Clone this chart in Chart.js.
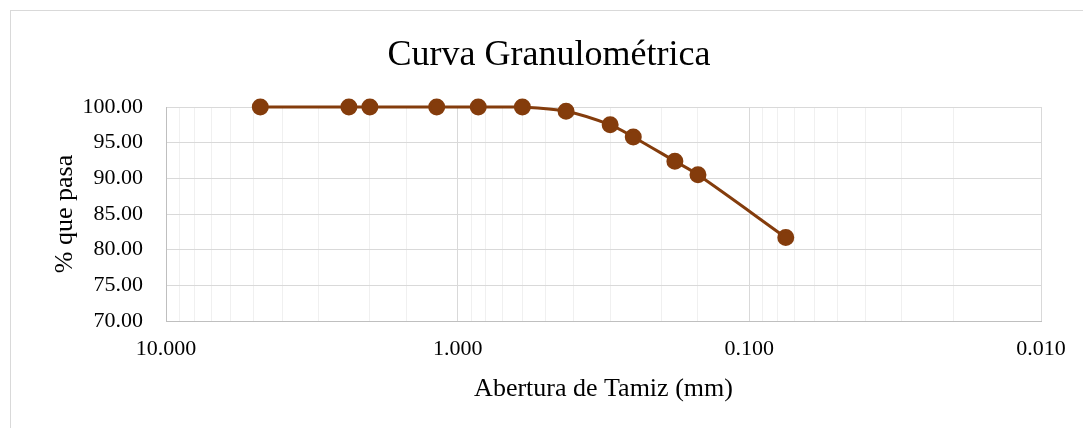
<!DOCTYPE html>
<html lang="es">
<head>
<meta charset="utf-8">
<title>Curva Granulométrica</title>
<script src="https://cdn.jsdelivr.net/npm/chart.js@4/dist/chart.umd.min.js"></script>
<style>
    html, body { margin: 0; padding: 0; background: #ffffff; }
    #frame {
        position: absolute; left: 10px; top: 10px;
        width: 1100px; height: 450px;
        border: 1px solid #d9d9d9;
    }
    #wrap { position: absolute; left: 0; top: 0; width: 1083px; height: 428px; }
</style>
</head>
<body>
<div id="frame"></div>
<div id="wrap"><canvas id="granChart" width="1083" height="428"></canvas></div>
<script>
// Datos del ensayo granulométrico
const aberturas = [4.75, 2.36, 2.00, 1.18, 0.85, 0.60, 0.425, 0.30, 0.25, 0.18, 0.15, 0.075];
const porcentajePasa = [100, 100, 100, 100, 100, 100, 99.4, 97.5, 95.8, 92.4, 90.5, 81.7];
const etiquetasX = [10, 1, 0.1, 0.01];

const tituloGrafico = 'Curva Granulométrica';
const tituloX = 'Abertura de Tamiz (mm)';
const tituloY = '% que pasa';

const serif = "'Liberation Serif', 'Times New Roman', serif";
const marron = '#843c0c';

// Title drawn by hand so it can sit where Excel puts it
const chartTitle = {
    id: 'chartTitle',
    afterDraw(chart) {
        const ctx = chart.ctx;
        ctx.save();
        ctx.font = '36px ' + serif;
        ctx.fillStyle = '#000000';
        ctx.textAlign = 'center';
        ctx.textBaseline = 'middle';
        ctx.fillText(tituloGrafico, 549, 56);
        ctx.restore();
    }
};

function isDecade(v) {
    const l = Math.log10(v);
    return Math.abs(l - Math.round(l)) < 1e-9;
}

const puntos = aberturas.map((a, i) => ({ x: a, y: porcentajePasa[i] }));

new Chart(document.getElementById('granChart'), {
    type: 'scatter',
    data: {
        datasets: [{
            data: puntos,
            showLine: true,
            clip: false,
            borderColor: marron,
            backgroundColor: marron,
            borderWidth: 3,
            pointRadius: 7,
            pointHoverRadius: 7,
            tension: 0.35
        }]
    },
    options: {
        responsive: false,
        animation: false,
        layout: { padding: { left: 40, right: 42, top: 107, bottom: 0 } },
        plugins: {
            legend: { display: false },
            tooltip: { enabled: false }
        },
        scales: {
            x: {
                type: 'logarithmic',
                reverse: true,
                min: 0.01,
                max: 10,
                afterFit(scale) { scale.height = 107; },
                grid: {
                    drawTicks: false,
                    color: ctx => (ctx.tick && isDecade(ctx.tick.value)) ? '#d9d9d9' : '#f0f0f0',
                    lineWidth: 1
                },
                border: { color: '#bfbfbf', width: 1 },
                ticks: {
                    autoSkip: false,
                    maxRotation: 0,
                    padding: 15,
                    color: '#000000',
                    font: { family: serif, size: 22 },
                    callback: v => (etiquetasX.some(e => Math.abs(e - v) < 1e-9) ? Number(v).toFixed(3) : '')
                },
                title: {
                    display: true,
                    text: tituloX,
                    color: '#000000',
                    font: { family: serif, size: 26 },
                    padding: { top: 0, bottom: 23 }
                }
            },
            y: {
                min: 70,
                max: 100,
                afterFit(scale) { scale.width = 126; },
                grid: { drawTicks: false, color: '#d9d9d9' },
                border: { color: '#bfbfbf', width: 1 },
                ticks: {
                    stepSize: 5,
                    padding: 23,
                    color: '#000000',
                    font: { family: serif, size: 22 },
                    callback: v => Number(v).toFixed(2)
                },
                title: {
                    display: true,
                    text: tituloY,
                    color: '#000000',
                    font: { family: serif, size: 26 },
                    padding: { top: 10, bottom: 0 }
                }
            }
        }
    },
    plugins: [chartTitle]
});
</script>
</body>
</html>
